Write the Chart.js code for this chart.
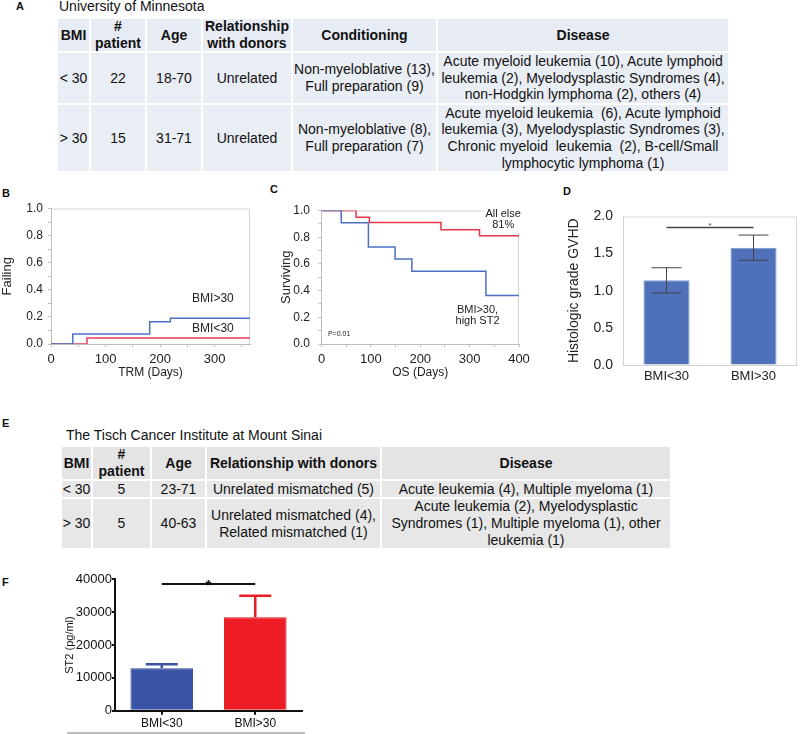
<!DOCTYPE html>
<html><head><meta charset="utf-8">
<script src="https://cdn.jsdelivr.net/npm/chart.js@4.4.1/dist/chart.umd.min.js"></script>
<style>
html,body{margin:0;padding:0;background:#fff}
body{width:800px;height:734px;position:relative;overflow:hidden;font-family:"Liberation Sans",Arial,Helvetica,sans-serif;color:#111}
.t{position:absolute;white-space:pre;line-height:14px}
.lab{font-weight:bold;font-size:11px}
.cell{position:absolute;display:flex;align-items:center;justify-content:center;text-align:center;white-space:pre;font-size:14px;line-height:16.7px;overflow:visible;color:#111}
.hd{font-weight:bold}
canvas{position:absolute}
</style></head><body>
<div class="t lab" style="left:16px;top:-1px">A</div>
<div class="t" style="left:59px;top:-2px;font-size:14px;line-height:17px">University of Minnesota</div>
<div class="t lab" style="left:2px;top:186px">B</div>
<div class="t lab" style="left:270px;top:182px">C</div>
<div class="t lab" style="left:563px;top:184px">D</div>
<div class="t lab" style="left:2px;top:416px">E</div>
<div class="t" style="left:66px;top:427px;font-size:14px;line-height:17px">The Tisch Cancer Institute at Mount Sinai</div>
<div class="t lab" style="left:2px;top:575px">F</div>
<div id="tabA"></div><div id="tabE"></div>
<canvas id="cB" width="265" height="200" style="left:0;top:190px"></canvas>
<canvas id="cC" width="265" height="200" style="left:275px;top:190px"></canvas>
<canvas id="cD" width="245" height="200" style="left:555px;top:195px"></canvas>
<canvas id="cF" width="310" height="164" style="left:0;top:570px"></canvas>
<div style="position:absolute;left:67px;top:732px;width:238px;height:2px;background:#bdbdbd"></div>
<script>
// ---------------- DATA ----------------
// Table A (University of Minnesota)
const tableAHeader = ["BMI", "#\npatient", "Age", "Relationship\nwith donors", "Conditioning", "Disease"];
const tableALow = ["< 30", "22", "18-70", "Unrelated", "Non-myeloblative (13),\nFull preparation (9)",
  "Acute myeloid leukemia (10), Acute lymphoid\nleukemia (2), Myelodysplastic Syndromes (4),\nnon-Hodgkin lymphoma (2), others (4)"];
const tableAHigh = ["> 30", "15", "31-71", "Unrelated", "Non-myeloblative (8),\nFull preparation (7)",
  "Acute myeloid leukemia  (6), Acute lymphoid\nleukemia (3), Myelodysplastic Syndromes (3),\nChronic myeloid  leukemia  (2), B-cell/Small\nlymphocytic lymphoma (1)"];
// Table E (Tisch Cancer Institute)
const tableEHeader = ["BMI", "#\npatient", "Age", "Relationship with donors", "Disease"];
const tableELow = ["< 30", "5", "23-71", "Unrelated mismatched (5)", "Acute leukemia (4), Multiple myeloma (1)"];
const tableEHigh = ["> 30", "5", "40-63", "Unrelated mismatched (4),\nRelated mismatched (1)",
  "Acute leukemia (2), Myelodysplastic\nSyndromes (1), Multiple myeloma (1), other\nleukemia (1)"];

// Panel B: TRM cumulative incidence (step points: day, value)
const trmHighDays = [0, 40, 181, 219, 365];
const trmHighFail = [0, 0.074, 0.165, 0.19, 0.19];
const trmLowDays  = [0, 66, 365];
const trmLowFail  = [0, 0.045, 0.045];

// Panel C: overall survival
const osHighDays = [0, 40, 95, 149, 183, 333, 400];
const osHighSurv = [1, 0.909, 0.727, 0.636, 0.545, 0.364, 0.364];
const osElseDays = [0, 70, 97, 242, 320, 400];
const osElseSurv = [1, 0.95, 0.91, 0.856, 0.81, 0.81];

// Panel D: histologic grade GVHD
const groups = ["BMI<30", "BMI>30"];
const gvhdMean = [1.14, 1.58];
const gvhdErr  = [0.17, 0.17];

// Panel F: ST2
const st2Mean = [12900, 28450];
const st2Err  = [1250, 6550];

// ---------------- TABLES ----------------
function buildTable(id, x0, y0, cols, rowsH, rows, bgHead, bgBody) {
  const host = document.getElementById(id);
  let y = y0;
  rows.forEach((row, r) => {
    let x = x0;
    row.forEach((txt, c) => {
      const d = document.createElement('div');
      d.className = 'cell' + (r === 0 ? ' hd' : '');
      d.style.left = x + 'px'; d.style.top = y + 'px';
      d.style.width = (cols[c] - 2) + 'px'; d.style.height = (rowsH[r] - 2) + 'px';
      d.style.background = r === 0 ? bgHead : bgBody;
      d.textContent = txt;
      host.appendChild(d);
      x += cols[c];
    });
    y += rowsH[r];
  });
}
buildTable('tabA', 58, 19, [33, 56, 56, 90, 145, 292], [34, 52, 68],
  [tableAHeader, tableALow, tableAHigh], '#e7ebf3', '#e9edf4');
buildTable('tabE', 62, 447, [31, 59, 55, 175, 290], [34, 18, 51],
  [tableEHeader, tableELow, tableEHigh], '#e4e4e4', '#e7e7e7');

// ---------------- CHART HELPERS ----------------
Chart.defaults.font.family = '"Liberation Sans", Arial, Helvetica, sans-serif';
Chart.defaults.color = '#222';
const zip = (xs, ys) => xs.map((x, i) => ({x: x, y: ys[i]}));
const evenTenth = v => (Math.round(v * 10) % 2 === 0) ? v.toFixed(1) : '';
const hundred = v => (Math.round(v) % 100 === 0) ? String(v) : '';

function framePlugin(color) {
  return { id: 'frame', beforeDatasetsDraw(chart) {
    const {ctx, chartArea: a} = chart;
    ctx.save(); ctx.strokeStyle = color; ctx.lineWidth = 1;
    ctx.beginPath(); ctx.moveTo(a.left, a.top + 0.5); ctx.lineTo(a.right - 0.5, a.top + 0.5); ctx.lineTo(a.right - 0.5, a.bottom);
    ctx.stroke(); ctx.restore();
  }};
}
function notesPlugin(items) {
  return { id: 'notes', afterDatasetsDraw(chart) {
    const {ctx} = chart; const xs = chart.scales.x, ys = chart.scales.y;
    ctx.save();
    items.forEach(it => {
      if (it.mask) {
        const x0 = xs.getPixelForValue(it.mask[0]), x1 = xs.getPixelForValue(it.mask[1]);
        const y0 = ys.getPixelForValue(it.mask[2]), y1 = ys.getPixelForValue(it.mask[3]);
        ctx.fillStyle = '#fff'; ctx.fillRect(x0, y1, x1 - x0, y0 - y1); return;
      }
      ctx.font = (it.size || 12) + 'px "Liberation Sans", Arial, sans-serif';
      ctx.fillStyle = it.color || '#222';
      ctx.textAlign = it.align || 'center'; ctx.textBaseline = 'middle';
      ctx.fillText(it.text, xs.getPixelForValue(it.x), ys.getPixelForValue(it.y));
    });
    ctx.restore();
  }};
}
function errPlugin(errs, o) {
  return { id: 'errbars', afterDatasetsDraw(chart) {
    const {ctx} = chart; const ys = chart.scales.y;
    const meta = chart.getDatasetMeta(0); const vals = chart.data.datasets[0].data;
    ctx.save(); ctx.lineWidth = o.width;
    meta.data.forEach((bar, i) => {
      ctx.strokeStyle = Array.isArray(o.color) ? o.color[i] : o.color;
      const top = ys.getPixelForValue(vals[i] + errs[i]);
      const bot = ys.getPixelForValue(o.both ? vals[i] - errs[i] : vals[i]);
      const h = o.cap / 2;
      ctx.beginPath();
      ctx.moveTo(bar.x, bot); ctx.lineTo(bar.x, top);
      ctx.moveTo(bar.x - h, top); ctx.lineTo(bar.x + h, top);
      if (o.both) { ctx.moveTo(bar.x - h, bot); ctx.lineTo(bar.x + h, bot); }
      ctx.stroke();
    });
    ctx.restore();
  }};
}
function sigPlugin(o) {
  return { id: 'sig', afterDatasetsDraw(chart) {
    const {ctx} = chart; const xs = chart.scales.x, ys = chart.scales.y;
    const y = ys.getPixelForValue(o.y), x0 = xs.getPixelForValue(0), x1 = xs.getPixelForValue(1);
    ctx.save(); ctx.strokeStyle = o.color; ctx.lineWidth = o.width;
    ctx.beginPath(); ctx.moveTo(x0, y); ctx.lineTo(x1, y); ctx.stroke();
    ctx.fillStyle = o.color; ctx.font = o.font; ctx.textAlign = 'center'; ctx.textBaseline = 'alphabetic';
    ctx.fillText('*', (x0 + x1) / 2, y + o.dy);
    ctx.restore();
  }};
}
const axisGray = '#bdbdbd';
function kmScales(xMax, xTitle, yTitle, yPadTop, yTickPad, yWidth, xHeight) {
  return {
    x: { type: 'linear', min: 0, max: xMax,
      ticks: { stepSize: 50, autoSkip: false, maxRotation: 0, includeBounds: false, callback: hundred, font: {size: 13}, padding: 4.5 },
      grid: { drawOnChartArea: false, tickLength: 3, color: axisGray }, border: { color: axisGray },
      title: { display: true, text: xTitle, font: {size: 12}, padding: {top: 0, bottom: 10} },
      afterFit: s => { s.height = xHeight; } },
    y: { min: 0, max: 1,
      ticks: { stepSize: 0.1, autoSkip: false, callback: evenTenth, font: {size: 12}, padding: yTickPad },
      grid: { drawOnChartArea: false, tickLength: 3, color: axisGray }, border: { color: axisGray },
      title: { display: true, text: yTitle, font: {size: 13}, padding: {top: yPadTop, bottom: 0} },
      afterFit: s => { s.width = yWidth; } }
  };
}
const lineDs = (data, color) => ({ data: data, borderColor: color, borderWidth: 1.5, stepped: 'before', pointRadius: 0, fill: false, tension: 0 });
const baseOpts = { responsive: false, animation: false, events: [] };

// ---------------- PANEL B ----------------
new Chart(document.getElementById('cB'), {
  type: 'line',
  data: { datasets: [ lineDs(zip(trmHighDays, trmHighFail), '#4a70c4'), lineDs(zip(trmLowDays, trmLowFail), '#e5404f') ] },
  options: Object.assign({}, baseOpts, {
    layout: { padding: { top: 18.5, right: 15, left: 0, bottom: 0 } },
    plugins: { legend: { display: false }, tooltip: { enabled: false } },
    scales: kmScales(365, 'TRM (Days)', 'Failing', 0, 5, 51, 46)
  }),
  plugins: [framePlugin('#d4d4d4'), notesPlugin([
    { text: 'BMI>30', x: 297, y: 0.333, size: 12 },
    { text: 'BMI<30', x: 297, y: 0.111, size: 12 }
  ])]
});

// ---------------- PANEL C ----------------
new Chart(document.getElementById('cC'), {
  type: 'line',
  data: { datasets: [ lineDs(zip(osHighDays, osHighSurv), '#4a70c4'), lineDs(zip(osElseDays, osElseSurv), '#e5364a') ] },
  options: Object.assign({}, baseOpts, {
    layout: { padding: { top: 20.5, right: 21, left: 0, bottom: 0 } },
    plugins: { legend: { display: false }, tooltip: { enabled: false } },
    scales: kmScales(400, 'OS (Days)', 'Surviving', 4, 8.5, 46.5, 46)
  }),
  plugins: [framePlugin('#d4d4d4'), notesPlugin([
    { mask: [324, 420, 0.822, 1.12] },
    { text: 'All else', x: 368, y: 0.975, size: 11 },
    { text: '81%', x: 368, y: 0.893, size: 11 },
    { text: 'BMI>30,', x: 316, y: 0.255, size: 11 },
    { text: 'high ST2', x: 316, y: 0.176, size: 11 },
    { text: 'P=0.01', x: 13, y: 0.077, size: 7, align: 'left' }
  ])]
});

// ---------------- PANEL D ----------------
new Chart(document.getElementById('cD'), {
  type: 'bar',
  data: { labels: groups, datasets: [{ data: gvhdMean, backgroundColor: '#4f71b9', borderColor: '#7d95cc', borderWidth: 1, barPercentage: 0.53, categoryPercentage: 1 }] },
  options: Object.assign({}, baseOpts, {
    layout: { padding: { top: 21.5, right: 3, left: 0, bottom: 0 } },
    plugins: { legend: { display: false }, tooltip: { enabled: false } },
    scales: {
      x: { grid: { drawOnChartArea: false, drawTicks: false }, border: { color: '#d0d0d0' },
        ticks: { font: {size: 13}, padding: 4 }, afterFit: s => { s.height = 30; } },
      y: { min: 0, max: 2, ticks: { stepSize: 0.5, callback: v => v.toFixed(1), font: {size: 14}, padding: 10 },
        grid: { drawOnChartArea: false, drawTicks: false }, border: { color: '#d0d0d0' },
        title: { display: true, text: 'Histologic grade GVHD', font: {size: 14}, padding: {top: 10.5, bottom: 0} },
        afterFit: s => { s.width = 68; } }
    }
  }),
  plugins: [framePlugin('#d8d8d8'), errPlugin(gvhdErr, { color: '#444', width: 1, cap: 30, both: true }),
    sigPlugin({ y: 1.853, color: '#444', width: 1.5, font: '8px "Liberation Sans", Arial', dy: 1 })]
});

// ---------------- PANEL F ----------------
new Chart(document.getElementById('cF'), {
  type: 'bar',
  data: { labels: groups, datasets: [{ data: st2Mean, backgroundColor: ['#3a53a4', '#ee1d25'], borderColor: ['#2e4696', '#d8141c'], borderWidth: 1, barPercentage: 0.67, categoryPercentage: 1 }] },
  options: Object.assign({}, baseOpts, {
    layout: { padding: { top: 9.3, right: 8, left: 0, bottom: 0 } },
    plugins: { legend: { display: false }, tooltip: { enabled: false } },
    scales: {
      x: { grid: { drawOnChartArea: false, offset: false, tickLength: 4, color: '#111', lineWidth: 2 }, border: { color: '#111', width: 2 },
        ticks: { font: {size: 12}, color: '#111', padding: 2 }, afterFit: s => { s.height = 23.3; } },
      y: { min: 0, max: 40000, ticks: { stepSize: 10000, callback: v => String(v), font: {size: 13}, color: '#111', padding: 0 },
        grid: { drawOnChartArea: false, tickLength: 3, color: '#111', lineWidth: 2 }, border: { color: '#111', width: 2 },
        title: { display: true, text: 'ST2 (pg/ml)', font: {size: 11}, color: '#111', padding: {top: 63, bottom: 0} },
        afterFit: s => { s.width = 115; } }
    }
  }),
  plugins: [errPlugin(st2Err, { color: ['#3a53a4', '#ee1d25'], width: 2.5, cap: 32, both: false }),
    sigPlugin({ y: 38570, color: '#111', width: 2, font: 'bold 15px "Liberation Sans", Arial', dy: 6 })]
});
</script>
</body></html>
